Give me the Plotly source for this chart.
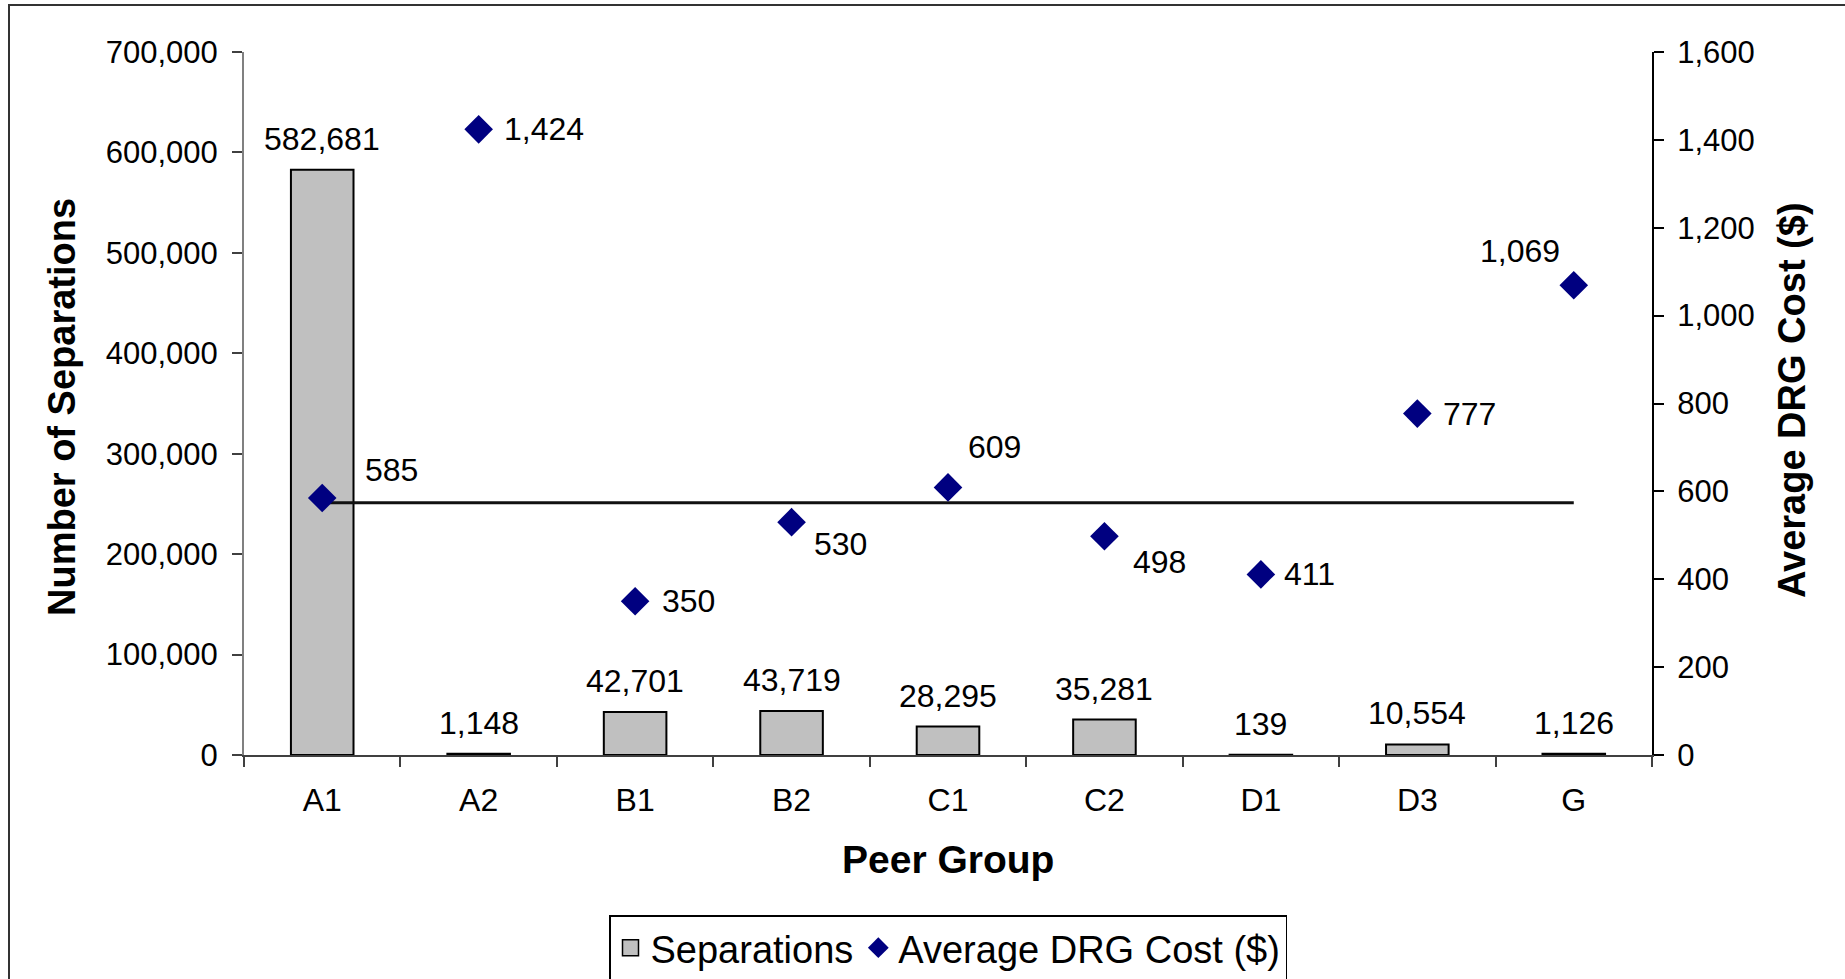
import plotly.graph_objects as go

# ---- data ----
peer_groups = ["A1", "A2", "B1", "B2", "C1", "C2", "D1", "D3", "G"]
separations = [582681, 1148, 42701, 43719, 28295, 35281, 139, 10554, 1126]
avg_drg_cost = [585, 1424, 350, 530, 609, 498, 411, 777, 1069]
overall_avg_cost = 574

sep_ticks = [0, 100000, 200000, 300000, 400000, 500000, 600000, 700000]
cost_ticks = [0, 200, 400, 600, 800, 1000, 1200, 1400, 1600]

# label offsets (pixels) for cost labels: (xshift, yshift)
cost_label_offsets = [(69, 28), (65, 0), (53, 0), (49, -22), (46, 40),
                      (55, -26), (49, 0), (52, 0), (-54, 34)]

FONT = "Liberation Sans, Arial, sans-serif"
W, H = 1845, 979
L, R, T, B = 244, 193, 52, 224
pw, ph = W - L - R, H - T - B

def px_x(x):
    return (x - L) / pw

def px_y(y):
    return (H - B - y) / ph

fig = go.Figure()

fig.add_trace(go.Bar(
    x=peer_groups, y=separations, name="Separations",
    marker=dict(color="#C0C0C0", line=dict(color="black", width=2)),
    yaxis="y", xaxis="x", showlegend=False,
))

fig.add_trace(go.Scatter(
    x=[peer_groups[0], peer_groups[-1]], y=[overall_avg_cost, overall_avg_cost],
    mode="lines", line=dict(color="#111111", width=3), showlegend=False,
    yaxis="y2", xaxis="x", hoverinfo="skip",
))

fig.add_trace(go.Scatter(
    x=peer_groups, y=avg_drg_cost, name="Average DRG Cost ($)",
    mode="markers", marker=dict(symbol="diamond", size=22, color="#000080",
                                line=dict(width=0)),
    yaxis="y2", xaxis="x", showlegend=False,
))

# legend entries (key only)
fig.add_trace(go.Scatter(
    x=[None], y=[None], name="Separations", mode="markers",
    marker=dict(symbol="square", size=20, color="#C0C0C0",
                line=dict(color="black", width=1.5)),
    yaxis="y", xaxis="x", showlegend=True, legendrank=1,
))
fig.add_trace(go.Scatter(
    x=[None], y=[None], name="Average DRG Cost ($)", mode="markers",
    marker=dict(symbol="diamond", size=22, color="#000080", line=dict(width=0)),
    yaxis="y2", xaxis="x", showlegend=True, legendrank=2,
))

annotations = []
for cat, v in zip(peer_groups, separations):
    annotations.append(dict(
        x=cat, y=v, xref="x", yref="y", text=f"{v:,}", showarrow=False,
        xanchor="center", yanchor="middle", yshift=31,
        font=dict(family=FONT, size=32, color="black"),
    ))
for cat, v, (dx, dy) in zip(peer_groups, avg_drg_cost, cost_label_offsets):
    annotations.append(dict(
        x=cat, y=v, xref="x", yref="y2", text=f"{v:,}", showarrow=False,
        xanchor="center", yanchor="middle", xshift=dx, yshift=dy,
        font=dict(family=FONT, size=32, color="black"),
    ))

# axis titles
annotations.append(dict(
    x=px_x(62), y=px_y(407), xref="paper", yref="paper",
    text="<b>Number of Separations</b>", textangle=-90, showarrow=False,
    xanchor="center", yanchor="middle",
    font=dict(family=FONT, size=38, color="black"),
))
annotations.append(dict(
    x=px_x(1792), y=px_y(400), xref="paper", yref="paper",
    text="<b>Average DRG Cost ($)</b>", textangle=-90, showarrow=False,
    xanchor="center", yanchor="middle",
    font=dict(family=FONT, size=38, color="black"),
))
annotations.append(dict(
    x=px_x(948), y=px_y(860), xref="paper", yref="paper",
    text="<b>Peer Group</b>", showarrow=False,
    xanchor="center", yanchor="middle",
    font=dict(family=FONT, size=39, color="black"),
))

fig.update_layout(
    width=W, height=H,
    margin=dict(l=L, r=R, t=T, b=B, autoexpand=False),
    paper_bgcolor="white", plot_bgcolor="white",
    font=dict(family=FONT, size=31, color="black"),
    bargap=0.6,
    showlegend=True,
    legend=dict(
        orientation="h", x=0.5, xanchor="center", y=px_y(915), yanchor="top",
        bordercolor="black", borderwidth=1.5, bgcolor="white",
        font=dict(family=FONT, size=38, color="black"),
        itemwidth=30, tracegroupgap=0, itemsizing="trace",
    ),
    xaxis=dict(
        type="category", categoryorder="array", categoryarray=peer_groups,
        range=[-0.5, len(peer_groups) - 0.5],
        showline=True, linecolor="#404040", linewidth=2,
        ticks="outside", tickson="boundaries", ticklen=10, tickcolor="#404040",
        tickwidth=1.5, showgrid=False, zeroline=False,
        tickfont=dict(family=FONT, size=32), ticklabelstandoff=16,
    ),
    xaxis2=dict(
        overlaying="x", anchor="y", type="linear",
        range=[-0.5, len(peer_groups) - 0.5],
        tickvals=[i - 0.5 for i in range(len(peer_groups) + 1)],
        ticks="inside", ticklen=10, tickcolor="#404040", tickwidth=1.5,
        showticklabels=False, showline=False, showgrid=False, zeroline=False,
    ),
    yaxis=dict(
        range=[0, 700000], tickvals=sep_ticks, tickformat=",",
        showline=True, linecolor="#808080", linewidth=2,
        ticks="outside", ticklen=10, tickcolor="#404040", tickwidth=1.5,
        showgrid=False, zeroline=False,
        tickfont=dict(family=FONT, size=31), ticklabelstandoff=8,
    ),
    yaxis3=dict(
        overlaying="y", anchor="x", side="left",
        range=[0, 700000], tickvals=sep_ticks,
        ticks="inside", ticklen=10, tickcolor="#404040", tickwidth=1.5,
        showticklabels=False, showline=False, showgrid=False, zeroline=False,
    ),
    yaxis2=dict(
        overlaying="y", side="right", anchor="x",
        range=[0, 1600], tickvals=cost_ticks, tickformat=",",
        showline=True, linecolor="black", linewidth=2,
        ticks="outside", ticklen=10, tickcolor="black", tickwidth=1.5,
        showgrid=False, zeroline=False,
        tickfont=dict(family=FONT, size=31), ticklabelstandoff=7,
    ),
    annotations=annotations,
    shapes=[dict(
        type="rect", xref="paper", yref="paper",
        x0=px_x(9), x1=px_x(W + 20), y0=px_y(H + 20), y1=px_y(5),
        line=dict(color="#333333", width=2), fillcolor="rgba(0,0,0,0)",
        layer="below",
    )],
)

fig.write_html(
    "out.html",
    config={"displayModeBar": False},
    post_script="document.body.style.margin='0';document.body.style.overflow='hidden';",
)
